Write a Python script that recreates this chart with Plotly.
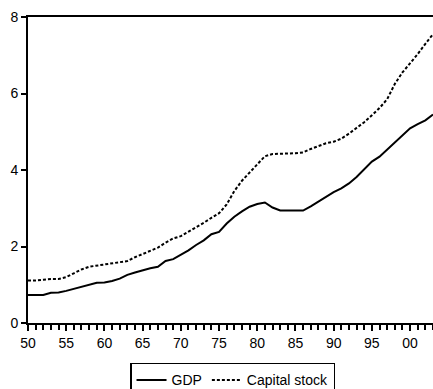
import plotly.graph_objects as go

years = list(range(1950, 2004))
gdp = [0.73, 0.73, 0.73, 0.79, 0.80, 0.84, 0.89, 0.94, 1.00, 1.05,
       1.06, 1.10, 1.16, 1.26, 1.32, 1.38, 1.43, 1.47, 1.62, 1.67,
       1.78, 1.90, 2.04, 2.16, 2.32, 2.38, 2.60, 2.78, 2.92, 3.04,
       3.11, 3.15, 3.02, 2.94, 2.94, 2.94, 2.94, 3.05, 3.17, 3.31,
       3.42, 3.52, 3.65, 3.82, 4.02, 4.22, 4.35, 4.53, 4.72, 4.90,
       5.09, 5.20, 5.30, 5.45]
capital = [1.11, 1.11, 1.13, 1.15, 1.15, 1.20, 1.30, 1.40, 1.47, 1.50,
           1.53, 1.57, 1.59, 1.62, 1.72, 1.80, 1.88, 1.97, 2.10, 2.21,
           2.27, 2.38, 2.50, 2.62, 2.75, 2.87, 3.10, 3.45, 3.72, 3.93,
           4.15, 4.36, 4.42, 4.42, 4.43, 4.44, 4.46, 4.55, 4.62, 4.70,
           4.74, 4.82, 4.95, 5.10, 5.25, 5.43, 5.62, 5.85, 6.25, 6.55,
           6.78, 7.03, 7.30, 7.55]
xtick_vals = [1950, 1955, 1960, 1965, 1970, 1975, 1980, 1985, 1990, 1995, 2000]
xtick_text = ["50", "55", "60", "65", "70", "75", "80", "85", "90", "95", "00"]
ytick_vals = [0, 2, 4, 6, 8]

fig = go.Figure()
fig.add_trace(go.Scatter(x=years, y=gdp, mode="lines", name="GDP",
                         line=dict(color="black", width=2)))
fig.add_trace(go.Scatter(x=years, y=capital, mode="lines", name="Capital stock",
                         line=dict(color="black", width=2, dash="3px,2px")))

fig.update_layout(
    width=433, height=389,
    margin=dict(l=28, r=0, t=17, b=66, autoexpand=False),
    paper_bgcolor="white", plot_bgcolor="white",
    font=dict(family="Arial", size=14, color="black"),
    showlegend=True,
    legend=dict(orientation="h", x=0.505, xanchor="center", y=-0.13, yanchor="top",
                bordercolor="black", borderwidth=1.5, bgcolor="white",
                font=dict(family="Arial", size=14), itemwidth=30, tracegroupgap=0),
)
fig.update_xaxes(range=[1950, 2003], tickvals=xtick_vals, ticktext=xtick_text,
                 ticks="outside", ticklen=6, tickwidth=2, tickcolor="black",
                 showline=True, linecolor="black", linewidth=2, mirror=True,
                 showgrid=False, zeroline=False, automargin=False,
                 minor=dict(dtick=1, tick0=1950, ticks="outside", ticklen=5,
                            tickwidth=2, tickcolor="black", showgrid=False))
fig.update_yaxes(range=[0, 8], tickvals=ytick_vals,
                 ticks="outside", ticklen=5, tickwidth=2, tickcolor="black",
                 showline=True, linecolor="black", linewidth=2,
                 showgrid=False, zeroline=False, automargin=False)

fig.write_html("out.html")
